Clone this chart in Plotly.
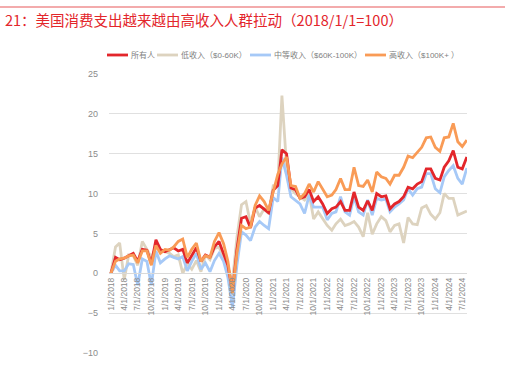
import pandas as pd
import plotly.graph_objects as go

dates = pd.date_range("2018-01-01", periods=80, freq="MS")

all_people = [0, 2.0, 1.7, 1.9, 2.2, 2.5, 1.5, 3.0, 2.9, 1.2, 4.2, 3.0,
              2.7, 3.0, 3.2, 2.8, 3.0, 1.3, 2.2, 3.2, 1.5, 2.3, 2.0, 3.3,
              4.0, 2.5, 1.0, -2.3, 3.0, 6.9, 7.1, 5.7, 8.2, 8.5, 8.0, 7.6,
              10.4, 11.0, 15.5, 15.0, 10.7, 10.5, 9.4, 9.6, 10.5, 9.0, 9.6, 8.7,
              7.5, 8.1, 8.3, 9.0, 7.9, 7.9, 10.2, 8.3, 7.9, 9.1, 7.9, 10.0,
              9.6, 9.7, 8.1, 8.7, 9.0, 9.6, 10.8, 10.6, 11.2, 11.5, 13.1, 13.1,
              11.9, 11.7, 13.3, 14.1, 15.4, 13.3, 13.1, 14.6]

low_income = [0, 3.3, 3.8, -0.8, 2.3, 2.2, 1.0, 4.0, 3.0, 2.0, 3.3, 2.9,
              2.7, 2.5, 2.1, 2.3, 0.0, 1.2, 0.5, 1.6, 0.2, 2.3, 1.7, 3.1,
              3.3, 2.0, 0.5, -1.0, 4.5, 8.6, 9.0, 6.2, 8.3, 7.1, 8.1, 7.5,
              11.0, 11.1, 22.3, 13.5, 10.6, 10.0, 9.6, 9.2, 10.0, 6.8, 7.7, 6.8,
              6.0, 5.4, 6.2, 6.8, 6.0, 6.2, 6.5, 5.8, 4.6, 7.6, 4.9, 6.2,
              7.1, 6.6, 5.2, 6.0, 6.2, 3.8, 7.0, 6.2, 6.1, 8.2, 8.5, 7.4,
              6.8, 7.6, 10.0, 9.4, 9.4, 7.3, 7.5, 7.8]

mid_income = [0, 1.0, 0.3, 0.3, 1.2, 1.1, -1.5, 1.8, 1.5, -1.5, 2.8, 1.3,
              1.8, 2.2, 2.0, 1.8, 2.1, 0.3, 1.5, 2.5, 0.5, 1.3, 0.2, 1.6,
              2.5, 1.5, -0.5, -4.3, 1.0, 5.2, 4.8, 4.1, 5.8, 6.5, 6.0, 5.6,
              9.5, 9.0, 14.5, 12.3, 9.6, 9.2, 8.7, 7.5, 9.8, 8.3, 8.3, 8.3,
              6.7, 7.5, 7.7, 9.6, 7.7, 7.3, 9.6, 7.7, 7.3, 9.2, 7.3, 9.4,
              9.2, 9.3, 7.7, 8.3, 8.7, 9.2, 10.6, 9.8, 10.6, 10.8, 12.5, 12.5,
              10.6, 10.1, 12.1, 12.9, 13.5, 11.9, 11.2, 13.2]

high_income = [0, 1.5, 1.8, 1.9, 2.2, 2.3, 1.3, 2.8, 2.8, 1.0, 3.5, 2.5,
               3.0, 2.9, 3.3, 4.0, 4.3, 2.0, 3.0, 3.8, 1.5, 2.2, 2.0, 4.0,
               5.1, 3.7, 1.5, -2.5, 2.5, 6.0, 5.6, 5.8, 8.5, 9.7, 9.0, 7.9,
               10.2, 12.4, 13.7, 14.6, 11.0, 10.9, 9.4, 10.0, 11.2, 10.2, 11.5, 10.5,
               9.6, 9.8, 10.5, 11.9, 10.5, 10.5, 13.3, 11.0, 10.9, 11.7, 10.2, 12.7,
               12.1, 11.9, 11.2, 12.3, 12.3, 13.3, 14.7, 14.5, 15.2, 15.8, 17.0, 17.1,
               15.8, 15.3, 17.0, 17.1, 18.8, 16.5, 15.9, 16.7]

series_names = ["所有人", "低收入（$0-60K）", "中等收入（$60K-100K）", "高收入（$100K+ ）"]
series_colors = ["#e3262b", "#ddd3bf", "#a6c9f7", "#f99b56"]
tick_dates = dates[::3]
tick_labels = [f"{d.month}/1/{d.year}" for d in tick_dates]

FONT = "Liberation Sans, Noto Sans CJK SC, sans-serif"

fig = go.Figure()
# draw order: low, mid, all, high (high on top)
for idx, vals in [(1, low_income), (2, mid_income), (0, all_people), (3, high_income)]:
    fig.add_trace(go.Scatter(x=dates, y=vals, name=series_names[idx], mode="lines",
                             line=dict(color=series_colors[idx], width=2.8),
                             showlegend=False))

L, R, T, B = 109, 38, 74, 23
H = 376 - T - B
W = 505 - L - R
y0frac = 10 / 35


def px(xpix):
    return (xpix - L) / W


def py(ypix):
    return (376 - B - ypix) / H


fig.update_layout(
    width=505, height=376,
    margin=dict(l=L, r=R, t=T, b=B, autoexpand=False),
    paper_bgcolor="white", plot_bgcolor="white",
    font=dict(family=FONT, color="#7f7f7f", size=10),
    showlegend=False,
    xaxis=dict(type="date", range=["2017-12-19", "2024-08-02"],
               tickvals=tick_dates, ticktext=tick_labels, tickangle=-90,
               anchor="free", position=y0frac, showgrid=False,
               showline=True, linecolor="#d9d9d9", linewidth=1,
               ticks="", tickfont=dict(size=8.5, color="#8c8c8c"),
               zeroline=False, automargin=False),
    yaxis=dict(range=[-10, 25], dtick=5, showgrid=True, gridcolor="#e0e0e0",
               gridwidth=1, zeroline=False, ticks="", ticklabelstandoff=10,
               tickfont=dict(size=9, color="#8c8c8c"), domain=[0, 1],
               automargin=False),
)

# manual legend
legend_x = [107, 157, 250, 365]
for i in range(4):
    fig.add_shape(type="line", xref="paper", yref="paper",
                  x0=px(legend_x[i]), x1=px(legend_x[i] + 21),
                  y0=py(55), y1=py(55),
                  line=dict(color=series_colors[i], width=2.8))
    fig.add_annotation(xref="paper", yref="paper", x=px(legend_x[i] + 22), y=py(55),
                       xanchor="left", yanchor="middle", text=series_names[i],
                       showarrow=False, font=dict(size=8, color="#7f7f7f"))

fig.add_shape(type="line", xref="paper", yref="paper",
              x0=px(0), x1=px(505), y0=py(7), y1=py(7),
              line=dict(color="#e8595b", width=1.2))
fig.add_annotation(xref="paper", yref="paper", x=px(3), y=py(20),
                   xanchor="left", yanchor="middle",
                   text="21：美国消费支出越来越由高收入人群拉动（2018/1/1=100）",
                   showarrow=False,
                   font=dict(family="Noto Sans CJK SC, sans-serif", size=14.5, color="#e3262b"))

fig.write_html("out.html", config={"displayModeBar": False},
               post_script="document.body.style.margin='0';document.body.style.padding='0';")
